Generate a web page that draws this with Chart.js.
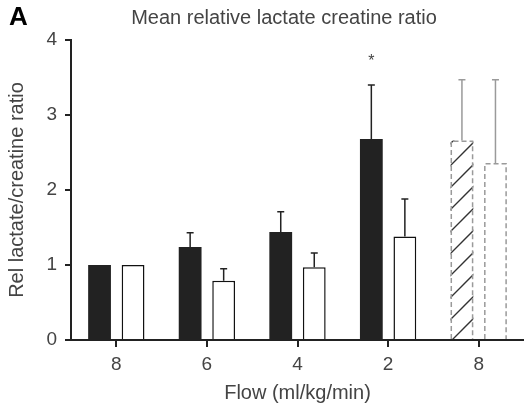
<!DOCTYPE html>
<html>
<head>
<meta charset="utf-8">
<script src="https://cdn.jsdelivr.net/npm/chart.js@4"></script>
<style>
  html, body { margin: 0; padding: 0; background: #fff; overflow: hidden; }
  canvas { display: block; }
</style>
</head>
<body>
<canvas id="chart" width="524" height="408"></canvas>
<script>
// Flow steps (ml/kg/min); the last group is the return to baseline flow
const flowLabels = ['8', '6', '4', '2', '8'];
// Mean relative lactate/creatine ratio, filled series
const seriesFilled = [1.00, 1.24, 1.44, 2.68, 2.66];
const seriesFilledErr = [0, 0.19, 0.27, 0.72, 0.81];
// Mean relative lactate/creatine ratio, open series
const seriesOpen = [1.00, 0.79, 0.97, 1.38, 2.36];
const seriesOpenErr = [0, 0.16, 0.19, 0.50, 1.11];
// Significance markers for the filled series
const filledSignificant = [false, false, false, true, false];
// Value axis ticks
const yTicks = [0, 1, 2, 3, 4];
// Group drawn with dashed outlines
const recoveryIndex = 4;

const FONT = '"Liberation Sans", Arial, Helvetica, sans-serif';
const TEXT = '#444';
const INK = '#222';
const FADED = '#9a9a9a';

Chart.defaults.font.family = FONT;

const canvas = document.getElementById('chart');

function makeHatch() {
  const s = 22;
  const tile = document.createElement('canvas');
  tile.width = s; tile.height = s;
  const g = tile.getContext('2d');
  g.fillStyle = '#fff';
  g.fillRect(0, 0, s, s);
  g.strokeStyle = '#333';
  g.lineWidth = 1.4;
  g.beginPath();
  g.moveTo(-1, 1); g.lineTo(1, -1);
  g.moveTo(0, s); g.lineTo(s, 0);
  g.moveTo(s - 1, s + 1); g.lineTo(s + 1, s - 1);
  g.stroke();
  return canvas.getContext('2d').createPattern(tile, 'repeat');
}
const hatch = makeHatch();

// Dashed outlines, error bars and annotations
const overlay = {
  id: 'overlay',
  afterDatasetsDraw(chart) {
    const ctx = chart.ctx;
    const yScale = chart.scales.y;
    const groups = [[seriesFilled, seriesFilledErr], [seriesOpen, seriesOpenErr]];
    groups.forEach(([vals, errs], d) => {
      const meta = chart.getDatasetMeta(d);
      meta.data.forEach((bar, i) => {
        const p = bar.getProps(['x', 'y', 'base', 'width'], true);
        const faded = i === recoveryIndex;
        if (faded) {
          const l = p.x - p.width / 2 + 0.75, r = p.x + p.width / 2 - 0.75, t = p.y + 0.75;
          ctx.save();
          ctx.setLineDash([5, 3]);
          ctx.strokeStyle = FADED;
          ctx.lineWidth = 1.5;
          ctx.beginPath();
          ctx.moveTo(l, p.base); ctx.lineTo(l, t); ctx.lineTo(r, t); ctx.lineTo(r, p.base);
          ctx.stroke();
          ctx.restore();
        }
        if (errs[i] > 0) {
          const yt = yScale.getPixelForValue(vals[i] + errs[i]);
          ctx.save();
          ctx.strokeStyle = faded ? FADED : INK;
          ctx.lineWidth = 1.5;
          ctx.beginPath();
          ctx.moveTo(p.x, p.y); ctx.lineTo(p.x, yt);
          ctx.moveTo(p.x - 3.5, yt); ctx.lineTo(p.x + 3.5, yt);
          ctx.stroke();
          ctx.restore();
          if (d === 0 && filledSignificant[i]) {
            ctx.save();
            ctx.fillStyle = TEXT;
            ctx.font = '16px ' + FONT;
            ctx.textAlign = 'center';
            ctx.textBaseline = 'alphabetic';
            ctx.fillText('*', p.x, yt - 19);
            ctx.restore();
          }
        }
      });
    });
  },
  afterDraw(chart) {
    const ctx = chart.ctx;
    ctx.save();
    ctx.fillStyle = TEXT;
    ctx.font = '20px ' + FONT;
    ctx.textAlign = 'center';
    ctx.textBaseline = 'alphabetic';
    ctx.fillText('Mean relative lactate creatine ratio', 284, 24);
    ctx.fillStyle = '#000';
    ctx.font = 'bold 26px ' + FONT;
    ctx.textAlign = 'left';
    ctx.fillText('A', 9, 25);
    ctx.restore();
  }
};

new Chart(canvas, {
  type: 'bar',
  data: {
    labels: flowLabels,
    datasets: [
      {
        label: 'filled',
        data: seriesFilled,
        backgroundColor: flowLabels.map((_, i) => i === recoveryIndex ? hatch : INK),
        borderWidth: 0,
        categoryPercentage: 0.74,
        barPercentage: 0.68
      },
      {
        label: 'open',
        data: seriesOpen,
        backgroundColor: '#fff',
        borderColor: '#111',
        borderWidth: flowLabels.map((_, i) => i === recoveryIndex ? 0 : 1.5),
        categoryPercentage: 0.74,
        barPercentage: 0.68
      }
    ]
  },
  options: {
    responsive: false,
    devicePixelRatio: 1,
    animation: false,
    layout: { padding: { left: 0, right: -2, top: 40, bottom: 0 } },
    plugins: { legend: { display: false }, tooltip: { enabled: false }, title: { display: false } },
    scales: {
      x: {
        z: 1,
        grid: { offset: false, drawOnChartArea: false, drawTicks: true, tickLength: 7, color: INK, lineWidth: 2 },
        border: { display: true, color: INK, width: 2 },
        ticks: { color: TEXT, font: { size: 19 }, padding: 6, maxRotation: 0 },
        title: { display: true, text: 'Flow (ml/kg/min)', color: TEXT, font: { size: 20 }, padding: { top: 0, bottom: 3 } },
        afterFit(scale) { scale.height = 68; }
      },
      y: {
        z: 1,
        min: 0,
        max: 4,
        afterBuildTicks(scale) { scale.ticks = yTicks.map(v => ({ value: v })); },
        grid: { drawOnChartArea: false, drawTicks: true, tickLength: 6, color: INK, lineWidth: 2 },
        border: { display: true, color: INK, width: 2 },
        ticks: { color: TEXT, font: { size: 19 }, padding: 8 },
        title: { display: true, text: 'Rel lactate/creatine ratio', color: TEXT, font: { size: 20 }, padding: { top: 5, bottom: 0 } },
        afterFit(scale) { scale.width = 71; }
      }
    }
  },
  plugins: [overlay]
});
</script>
</body>
</html>
